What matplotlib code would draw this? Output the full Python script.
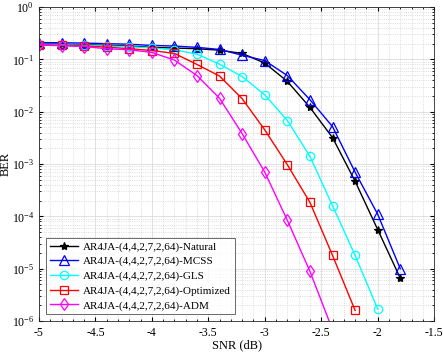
import matplotlib.pyplot as plt
from matplotlib.ticker import LogLocator, MultipleLocator, NullFormatter

plt.rcParams['font.family'] = ['Liberation Serif', 'DejaVu Serif']
plt.rcParams['mathtext.fontset'] = 'stix'

snr = [-5.0, -4.8, -4.6, -4.4, -4.2, -4.0, -3.8, -3.6, -3.4, -3.2, -3.0, -2.8, -2.6, -2.4, -2.2, -2.0, -1.8]

natural = [0.20, 0.195, 0.19, 0.186, 0.18, 0.17, 0.165, 0.16, 0.15, 0.13, 0.085, 0.038, 0.0121, 0.0032, 4.7e-4, 5.6e-5, 6.6e-6]
mcss = [0.21, 0.208, 0.205, 0.20, 0.195, 0.185, 0.18, 0.17, 0.155, 0.12, 0.095, 0.049, 0.017, 0.0052, 7.0e-4, 1.1e-4, 1.0e-5]
gls = [0.196, 0.19, 0.186, 0.18, 0.175, 0.165, 0.153, 0.126, 0.081, 0.047, 0.021, 0.0068, 0.0014, 1.6e-4, 1.8e-5, 1.7e-6]
optimized = [0.19, 0.186, 0.18, 0.172, 0.16, 0.148, 0.13, 0.08, 0.048, 0.0177, 0.0045, 9.7e-4, 1.85e-4, 1.8e-5, 1.6e-6]
adm = [0.188, 0.183, 0.176, 0.16, 0.153, 0.136, 0.097, 0.049, 0.018, 0.0038, 7.0e-4, 8.4e-5, 8.9e-6, 6.8e-7]

series = [
    (natural, '#000000', '*', 'AR4JA-(4,4,2,7,2,64)-Natural'),
    (mcss, '#0000ff', '^', 'AR4JA-(4,4,2,7,2,64)-MCSS'),
    (gls, '#00ffff', 'o', 'AR4JA-(4,4,2,7,2,64)-GLS'),
    (optimized, '#ff0000', 's', 'AR4JA-(4,4,2,7,2,64)-Optimized'),
    (adm, '#ff00ff', 'd', 'AR4JA-(4,4,2,7,2,64)-ADM'),
]

fig = plt.figure(figsize=(4.43, 3.54), dpi=100)
ax = fig.add_axes([0.088, 0.093, 0.892, 0.887])

for vals, c, m, lab in series:
    ms = {'*': 6, '^': 6.5, 'o': 6, 's': 5.5, 'd': 6.5}[m]
    ax.semilogy(snr[:len(vals)], vals, color=c, marker=m, markersize=ms,
                markerfacecolor='none' if m != '*' else c,
                markeredgewidth=0.9, linewidth=1.0, label=lab)

ax.set_xlim(-5, -1.5)
ax.set_ylim(1e-6, 1)
ax.xaxis.set_minor_locator(MultipleLocator(0.1))
ax.yaxis.set_major_locator(LogLocator(base=10, numticks=10))
ax.yaxis.set_minor_locator(LogLocator(base=10, subs=range(2, 10), numticks=20))
ax.yaxis.set_minor_formatter(NullFormatter())
ax.set_xticks([-5, -4.5, -4, -3.5, -3, -2.5, -2, -1.5])
ax.set_xticklabels(['-5', '-4.5', '-4', '-3.5', '-3', '-2.5', '-2', '-1.5'])

ax.grid(True, which='major', color='#dcdcdc', linewidth=0.6)
ax.grid(True, which='minor', color='#d0d0d0', linestyle=':', linewidth=0.6)
ax.tick_params(which='both', direction='in', top=True, right=True, labelsize=8.5, length=3)
ax.tick_params(which='minor', length=1.5)
ax.tick_params(axis='x', pad=4)
for s in ax.spines.values():
    s.set_color('#262626')
    s.set_linewidth(0.6)

ax.set_xlabel('SNR (dB)', fontsize=9)
ax.set_ylabel('BER', fontsize=9)
ax.yaxis.set_label_coords(-0.07, 0.5)
ax.xaxis.set_label_coords(0.5, -0.058)

leg = ax.legend(loc='lower left', fontsize=8, frameon=True, fancybox=False,
                edgecolor='#262626', borderaxespad=0.6, handlelength=2.6,
                labelspacing=0.42, borderpad=0.35, handletextpad=0.4)
leg.get_frame().set_linewidth(0.6)

fig.savefig('out.png', dpi=100)
